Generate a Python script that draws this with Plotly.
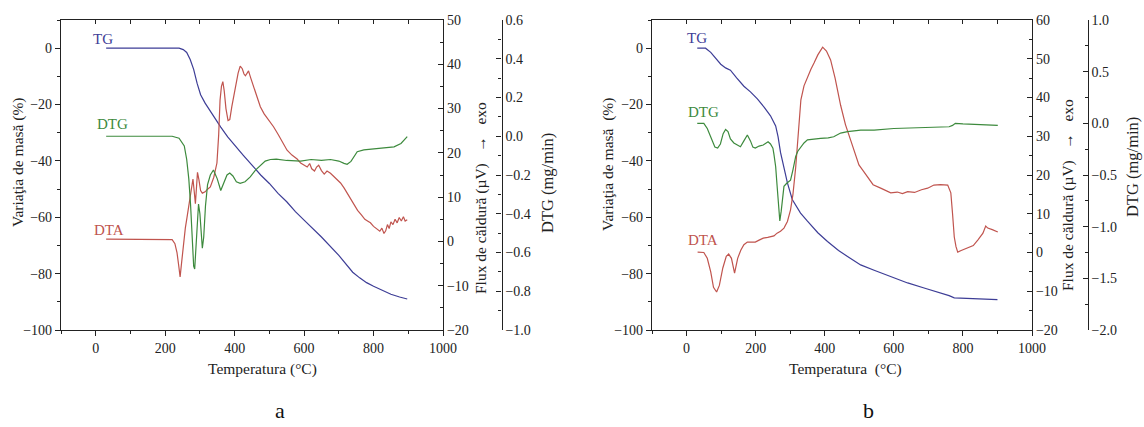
import plotly.graph_objects as go

W, H = 1144, 427

# ---------------- Panel a data ----------------
ta_tg = [30, 150, 240, 252, 262, 272, 282, 292, 302, 315, 330, 345, 360, 380, 400, 425, 450, 475,
         500, 525, 550, 575, 600, 650, 700, 740, 760, 780, 800, 825, 850, 875, 897]
tg_a = [0, 0, 0, -0.5, -1.5, -4, -7.5, -12.5, -16.5, -19.5, -22.5, -25.5, -28, -31.5, -34.5, -38,
        -41.5, -45, -48, -51.5, -54.5, -58, -61, -67, -73.5, -79.5, -81.5, -83.2, -84.5, -86, -87.3, -88.3, -89]

ta_dta = [30, 150, 220, 228, 234, 239, 243, 247, 252, 258, 263, 270, 276, 280, 284, 287, 290, 293,
          297, 302, 307, 315, 322, 330, 340, 349, 354, 358, 362, 366, 370, 375, 381, 386, 392, 397,
          404, 410, 416, 422, 427, 431, 436, 440, 446, 455, 465, 474, 485, 497, 512, 525, 538, 551,
          565, 580, 590, 600, 609, 616, 622, 630, 636, 642, 650, 658, 666, 676, 686, 696, 705, 715,
          725, 735, 745, 754, 765, 775, 785, 791, 800, 810, 818, 824, 830, 835, 840, 845, 850, 856,
          862, 868, 874, 880, 886, 891, 897]
dta_a = [0.5, 0.5, 0.4, -0.5, -2.5, -5.5, -8, -5, -1, 3, 5.5, 9.5, 13, 14.1, 11, 8.5, 12, 15.6,
         14, 11.5, 10.9, 11.2, 11.8, 12.3, 14.5, 17.7, 24, 31.9, 35, 36.1, 34, 30, 27.3, 27.5, 30.5, 32.6,
         35.5, 38, 39.6, 39, 37.8, 37.4, 38, 38.5, 37, 35, 32.5, 30.4, 28.8, 27.5, 25.9, 24.2, 22.3, 20.6,
         19.5, 18.6, 17.7, 17.2, 16.8, 17.6, 16.4, 15.9, 16.8, 17.2, 16.0, 15.2, 15.9, 15.4, 14.6, 13.9, 13.2, 12.1,
         10.8, 9.5, 8.2, 7.0, 6.0, 5.0, 4.5, 4.2, 3.4, 2.8, 2.3, 3.0, 1.8, 2.4, 3.8, 2.9, 4.4, 3.8,
         5.0, 4.2, 5.4, 4.6, 5.6, 4.6, 4.9]

ta_dtg = [30, 220, 240, 255, 262, 268, 273, 278, 282, 285, 288, 292, 296, 300, 304, 307, 311, 316,
          322, 330, 339, 350, 360, 370, 378, 386, 395, 405, 416, 430, 445, 460, 474, 488, 503, 520,
          550, 590, 620, 650, 676, 700, 715, 724, 735, 753, 772, 800, 820, 840, 859, 879, 897]
dtg_a = [0, 0, -0.01, -0.05, -0.12, -0.22, -0.35, -0.55, -0.67, -0.685, -0.58, -0.43, -0.35, -0.4,
         -0.52, -0.578, -0.52, -0.36, -0.25, -0.2, -0.174, -0.22, -0.28, -0.24, -0.2, -0.19, -0.205,
         -0.235, -0.243, -0.235, -0.21, -0.175, -0.15, -0.128, -0.12, -0.118, -0.125, -0.128, -0.12,
         -0.125, -0.12, -0.128, -0.14, -0.145, -0.13, -0.08, -0.07, -0.066, -0.063, -0.058, -0.055,
         -0.037, -0.002]

# ---------------- Panel b data ----------------
tb_tg = [31, 55, 70, 85, 99, 113, 127, 145, 166, 185, 205, 225, 243, 258, 265, 272, 282, 292, 306,
         330, 350, 380, 408, 440, 466, 504, 543, 590, 640, 690, 736, 760, 775, 800, 850, 900]
tg_b = [0, 0, -1.5, -3.5, -5.7, -7, -7.8, -10.5, -13.5, -15.5, -18, -21, -24, -27.6, -31.5, -37,
        -43, -47.8, -53.7, -58.5, -61.4, -65.5, -68.6, -71.8, -73.9, -76.9, -78.8, -81, -83.3, -85.2,
        -86.8, -87.8, -88.6, -88.7, -88.9, -89.2]

tb_dta = [32, 50, 60, 70, 78, 87, 95, 105, 115, 122, 130, 139, 148, 157, 166, 176, 188, 199, 210,
          222, 235, 245, 253, 262, 272, 282, 292, 301, 308, 316, 323, 331, 340, 350, 360, 369, 380,
          394, 405, 417, 430, 446, 460, 475, 485, 499, 512, 524, 540, 562, 580, 591, 610, 625, 640,
          660, 680, 698, 716, 735, 756, 765, 770, 775, 780, 785, 795, 814, 830, 843, 858, 866, 872,
          885, 901]
dta_b = [0.1, 0, -1.5, -5, -9, -10.2, -8.5, -4, -1, -0.4, -1.5, -5.3, -1.5, 0.6, 2, 2.7, 2.7, 2.7,
         3.2, 3.7, 3.9, 4.1, 4.3, 5, 5.5, 6.3, 8, 11, 15, 22, 31, 39.4, 43, 45.3, 47.3, 48.9, 51, 53,
         52, 49.7, 45, 38, 33, 29, 26.5, 22.6, 21, 19.5, 17.5, 16.6, 15.8, 15.4, 15.6, 15.2, 15.7,
         15.5, 16.2, 16.6, 17.4, 17.5, 17.4, 15.4, 10, 4, 1.5, 0.1, 0.5, 1.2, 1.8, 3.2, 5, 6.8, 6.3,
         5.9, 5.3]

tb_dtg = [31, 50, 60, 68, 75, 82, 90, 98, 106, 113, 120, 127, 137, 146, 156, 166, 176, 185, 192,
          199, 210, 222, 230, 236, 243, 250, 253, 258, 262, 266, 270, 274, 278, 282, 290, 296, 301,
          308, 316, 322, 331, 340, 350, 370, 388, 410, 426, 446, 466, 504, 543, 600, 640, 700, 736,
          760, 770, 778, 800, 832, 870, 901]
dtg_b = [0, 0, -0.05, -0.12, -0.18, -0.23, -0.24, -0.2, -0.1, -0.06, -0.08, -0.15, -0.19, -0.21,
         -0.226, -0.17, -0.113, -0.17, -0.23, -0.24, -0.22, -0.21, -0.19, -0.178, -0.2, -0.24, -0.3,
         -0.42, -0.6, -0.8, -0.945, -0.85, -0.7, -0.61, -0.58, -0.56, -0.55, -0.45, -0.32, -0.27,
         -0.226, -0.19, -0.16, -0.15, -0.145, -0.14, -0.13, -0.094, -0.08, -0.065, -0.065, -0.05,
         -0.045, -0.04, -0.035, -0.033, -0.02, 0.0, -0.005, -0.01, -0.015, -0.02]

for a, b in [(ta_tg, tg_a), (ta_dta, dta_a), (ta_dtg, dtg_a), (tb_tg, tg_b), (tb_dta, dta_b), (tb_dtg, dtg_b)]:
    assert len(a) == len(b), (len(a), len(b))

C_TG = "#3d3d96"
C_DTG = "#3d8a3d"
C_DTA = "#c0544e"
FONT = "Liberation Serif"
AX = "#222222"
LW = 1.2

fig = go.Figure()
# panel a traces
fig.add_trace(go.Scatter(x=ta_tg, y=tg_a, xaxis="x", yaxis="y", mode="lines", line=dict(color=C_TG, width=LW)))
fig.add_trace(go.Scatter(x=ta_dta, y=dta_a, xaxis="x", yaxis="y2", mode="lines", line=dict(color=C_DTA, width=LW)))
fig.add_trace(go.Scatter(x=ta_dtg, y=dtg_a, xaxis="x2", yaxis="y3", mode="lines", line=dict(color=C_DTG, width=LW)))
# panel b traces
fig.add_trace(go.Scatter(x=tb_tg, y=tg_b, xaxis="x3", yaxis="y4", mode="lines", line=dict(color=C_TG, width=LW)))
fig.add_trace(go.Scatter(x=tb_dta, y=dta_b, xaxis="x3", yaxis="y5", mode="lines", line=dict(color=C_DTA, width=LW)))
fig.add_trace(go.Scatter(x=tb_dtg, y=dtg_b, xaxis="x4", yaxis="y6", mode="lines", line=dict(color=C_DTG, width=LW)))


def px_x(p):
    return p / W


def px_y(p):
    return 1 - p / H


YDOM = [px_y(330), px_y(20)]
XDOM_A = [px_x(61), px_x(443)]
XDOM_B = [px_x(652), px_x(1032)]
tickfont = dict(family=FONT, size=14, color=AX)

common = dict(showgrid=False, zeroline=False, showline=True, linecolor=AX, linewidth=1.2,
              tickcolor=AX, tickwidth=1.1, ticklen=5, tickfont=tickfont, automargin=False)


def xbottom(dom, anchor):
    return dict(domain=dom, anchor=anchor, range=[-100, 1000], ticks="outside", tick0=0, dtick=200,
                minor=dict(dtick=100, ticks="outside", ticklen=3, tickcolor=AX), **common)


def xtop(dom, anchor, over):
    return dict(domain=dom, anchor=anchor, overlaying=over, side="top", range=[-100, 1000],
                ticks="inside", tick0=0, dtick=200, showticklabels=False,
                minor=dict(dtick=100, ticks="inside", ticklen=4, tickcolor=AX), **{**common, "ticklen": 4})


def yleft(anchor):
    return dict(domain=YDOM, anchor=anchor, range=[-100, 10], ticks="outside", tick0=0, dtick=20,
                minor=dict(dtick=10, ticks="outside", ticklen=3, tickcolor=AX), **common)


def yright(anchor, over, rng, dt, mdt, fmt=None, position=None):
    d = dict(domain=YDOM, overlaying=over, side="right", range=rng, ticks="inside", tick0=0,
             dtick=dt, minor=dict(dtick=mdt, ticks="inside", ticklen=3, tickcolor=AX), **common)
    if position is None:
        d["anchor"] = anchor
    else:
        d["anchor"] = "free"
        d["position"] = position
    if fmt:
        d["tickformat"] = fmt
    return d


fig.update_layout(
    template="none",
    width=W, height=H, margin=dict(l=0, r=0, t=0, b=0, pad=0, autoexpand=False),
    paper_bgcolor="white", plot_bgcolor="white", showlegend=False,
    xaxis=xbottom(XDOM_A, "y"),
    xaxis2=xtop(XDOM_A, "y", "x"),
    xaxis3=xbottom(XDOM_B, "y4"),
    xaxis4=xtop(XDOM_B, "y4", "x3"),
    yaxis=yleft("x"),
    yaxis2=yright("x", "y", [-20, 50], 10, 5),
    yaxis3=yright("x", "y", [-1, 0.6], 0.2, 0.1, fmt=".1f", position=px_x(501.5)),
    yaxis4=yleft("x3"),
    yaxis5=yright("x3", "y4", [-20, 60], 10, 5),
    yaxis6=yright("x3", "y4", [-2, 1], 0.5, 0.25, fmt=".1f", position=px_x(1087.7)),
)

NB = "\u00a0"
anns = []


def paper_text(x, y, text, size=15.5, angle=0, color=AX):
    anns.append(dict(x=px_x(x), y=px_y(y), xref="paper", yref="paper", text=text, showarrow=False,
                     textangle=angle, xanchor="center", yanchor="middle",
                     font=dict(family=FONT, size=size, color=color)))


def data_text(xref, yref, x, y, text, color):
    anns.append(dict(x=x, y=y, xref=xref, yref=yref, text=text, showarrow=False,
                     xanchor="center", yanchor="middle",
                     font=dict(family=FONT, size=15, color=color)))


# panel a texts
paper_text(18, 162, "Variaţia de masă (%)", angle=-90)
paper_text(262, 369, "Temperatura (°C)")
paper_text(481, 198, "Flux de căldură (µV)" + NB * 3 + "→" + NB * 3 + "exo", angle=-90)
paper_text(547, 183, "DTG (mg/min)", size=16.5, angle=-90)
paper_text(280, 410, "a", size=22, color="#111111")
data_text("x", "y", 21, 3.2, "TG", C_TG)
data_text("x", "y", 47, -27, "DTG", C_DTG)
data_text("x", "y", 38, -64.4, "DTA", C_DTA)

# panel b texts
paper_text(608, 165, "Variaţia de masă" + NB * 2 + "(%)", angle=-90)
paper_text(845, 369, "Temperatura" + NB * 2 + "(°C)")
paper_text(1068, 195, "Flux de căldură (µV)" + NB * 3 + "→" + NB * 3 + "exo", angle=-90)
paper_text(1132, 167, "DTG (mg/min)", size=16.5, angle=-90)
paper_text(868, 410, "b", size=22, color="#111111")
data_text("x3", "y4", 30, 3.6, "TG", C_TG)
data_text("x3", "y4", 48, -22.8, "DTG", C_DTG)
data_text("x3", "y4", 49, -68, "DTA", C_DTA)

fig.update_layout(annotations=anns)
fig.write_html("out.html")
